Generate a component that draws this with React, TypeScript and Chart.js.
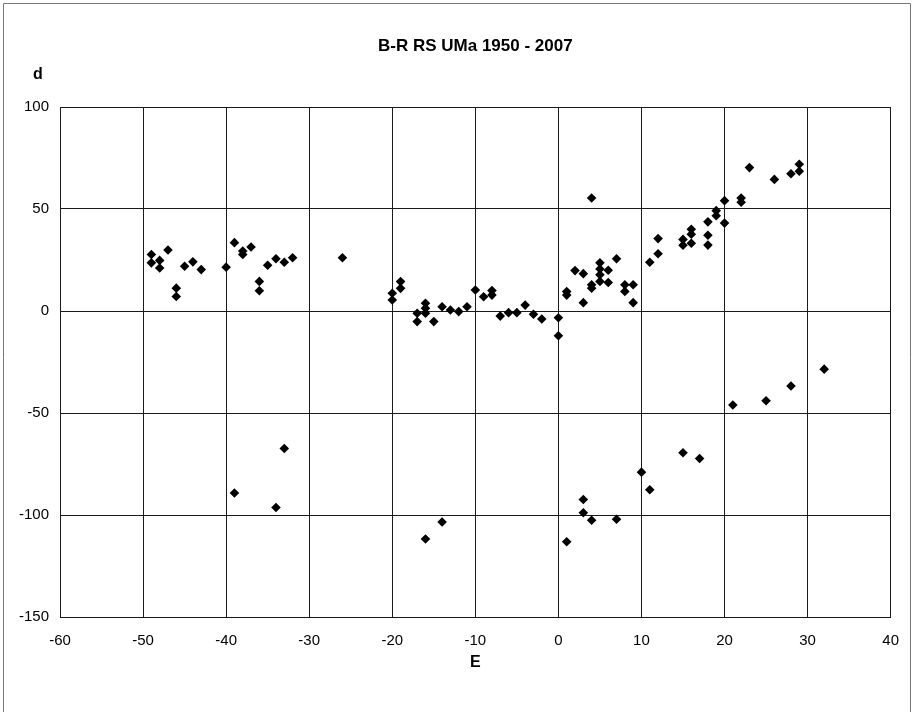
import { useEffect, useRef } from 'react';
import { Chart, registerables } from 'chart.js';

Chart.register(...registerables);

const TITLE = 'B-R RS UMa 1950 - 2007';
const X_TITLE = 'E';
const Y_TITLE = 'd';

const X_TICKS = [-60, -50, -40, -30, -20, -10, 0, 10, 20, 30, 40];
const Y_TICKS = [-150, -100, -50, 0, 50, 100];

// Epoch numbers (E)
const EPOCHS = [
  -49, -49, -48, -48, -47, -46, -46, -45, -44, -43, -40, -39, -38, -38, -37, -36, -36, -35, -34, -33, -32, -26,
  -20, -20, -19, -19, -17, -17, -16, -16, -16, -15, -14, -13, -12, -11, -10, -9, -8, -8, -7, -6, -5, -4, -3, -2,
  0, 0, 1, 1, 2,
  3, 3, 4, 4, 4, 5, 5, 5, 5, 6, 6, 7, 8, 8, 9, 9, 11, 12, 12, 15, 15, 16, 16, 16, 18, 18, 18, 19, 19, 20, 20,
  22, 22, 23, 26, 28, 29, 29,
  -39, -34, -33, -16, -14, 1, 3, 3, 4, 7, 10, 11, 15, 17, 21, 25, 28, 32,
];

// B-R residuals (d)
const RESIDUALS = [
  27.7, 23.6, 24.8, 21.1, 29.9, 11.2, 7.1, 21.9, 24.1, 20.3, 21.5, 33.5, 29.4, 27.7, 31.4, 14.5, 9.9, 22.4, 25.6, 23.9, 26.1, 26.1,
  8.7, 5.4, 14.4, 11.1, -1.1, -5.2, 3.8, 1.3, -1.1, -5.2, 2.1, 0.5, -0.3, 2.1, 10.3, 7.0, 10.0, 7.8, -2.5, -0.8, -0.8, 2.9, -1.6, -3.9,
  -3.3, -12.1, 9.5, 7.8, 19.8,
  18.3, 4.1, 55.4, 12.9, 11.2, 23.6, 20.6, 17.8, 14.5, 20.0, 14.0, 25.6, 12.9, 9.6, 12.9, 4.1, 23.9, 35.5, 28.1, 35.1, 32.2, 40.1, 37.6, 33.2, 43.7, 37.1, 32.3, 49.2, 46.7, 54.1, 43.1,
  55.4, 53.3, 70.3, 64.5, 67.3, 71.9, 68.5,
  -89.2, -96.3, -67.4, -111.8, -103.4, -113.1, -92.4, -98.9, -102.6, -102.1, -79.0, -87.6, -69.5, -72.3, -46.1, -44.0, -36.8, -28.5,
];

const TICK_FONT = "'Liberation Sans Narrow', 'Liberation Sans', Arial, sans-serif";
const BOLD_FONT = "'Liberation Sans', Arial, sans-serif";

export default function App() {
  const canvasRef = useRef<HTMLCanvasElement | null>(null);

  useEffect(() => {
    if (!canvasRef.current) return;
    const points = EPOCHS.map((e, i) => ({ x: e, y: RESIDUALS[i] }));

    const decor = {
      id: 'decor',
      afterDraw(chart: any) {
        const { ctx, chartArea } = chart;
        ctx.save();
        ctx.strokeStyle = '#777';
        ctx.lineWidth = 1;
        ctx.beginPath();
        ctx.moveTo(3.5, 712);
        ctx.lineTo(3.5, 3.5);
        ctx.lineTo(910.5, 3.5);
        ctx.lineTo(910.5, 712);
        ctx.stroke();
        ctx.fillStyle = '#000';
        ctx.textAlign = 'center';
        ctx.textBaseline = 'middle';
        ctx.font = `bold 17px ${BOLD_FONT}`;
        ctx.fillText(TITLE, (chartArea.left + chartArea.right) / 2, 46);
        ctx.font = `bold 16px ${BOLD_FONT}`;
        ctx.fillText(Y_TITLE, 38, 75);
        ctx.restore();
      },
    };

    const chart = new Chart(canvasRef.current, {
      type: 'scatter',
      data: {
        datasets: [
          {
            data: points,
            backgroundColor: '#000',
            borderColor: '#000',
            pointStyle: 'rectRot',
            pointRadius: 4.8,
            pointBorderWidth: 0,
          },
        ],
      },
      options: {
        responsive: false,
        animation: false,
        layout: { padding: { left: 0, right: 23, top: 107, bottom: 15 } },
        plugins: {
          legend: { display: false },
          tooltip: { enabled: false },
        },
        scales: {
          x: {
            type: 'linear',
            min: -60,
            max: 40,
            afterBuildTicks: (s: any) => {
              s.ticks = X_TICKS.map((v) => ({ value: v }));
            },
            afterFit: (s: any) => {
              s.height = 80;
            },
            ticks: {
              padding: 15,
              color: '#000',
              font: { family: TICK_FONT, size: 15 },
              maxRotation: 0,
              autoSkip: false,
            },
            grid: { color: '#1a1a1a', lineWidth: 1, drawTicks: false },
            border: { color: '#1a1a1a', width: 1 },
            title: {
              display: true,
              text: X_TITLE,
              color: '#000',
              font: { family: BOLD_FONT, size: 16, weight: 'bold' },
              padding: { top: 0, bottom: 25 },
            },
          },
          y: {
            type: 'linear',
            min: -150,
            max: 100,
            afterBuildTicks: (s: any) => {
              s.ticks = Y_TICKS.map((v) => ({ value: v }));
            },
            afterFit: (s: any) => {
              s.width = 60;
            },
            ticks: {
              padding: 11,
              color: '#000',
              font: { family: TICK_FONT, size: 15 },
              autoSkip: false,
            },
            grid: { color: '#1a1a1a', lineWidth: 1, drawTicks: false },
            border: { color: '#1a1a1a', width: 1 },
          },
        },
      },
      plugins: [decor],
    });

    return () => chart.destroy();
  }, []);

  return (
    <div style={{ position: 'absolute', left: 0, top: 0, width: 914, height: 712, background: '#fff' }}>
      <canvas ref={canvasRef} width={914} height={712} />
    </div>
  );
}
